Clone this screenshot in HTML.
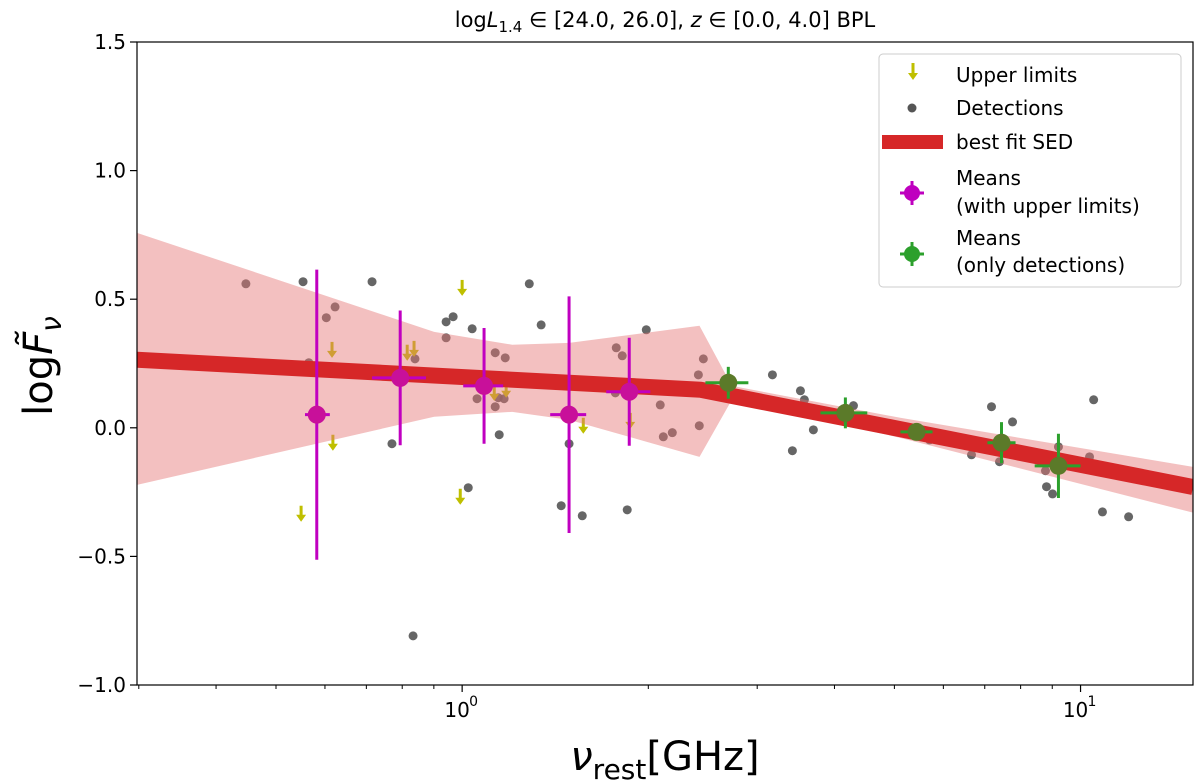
<!DOCTYPE html>
<html><head><meta charset="utf-8"><style>
html,body{margin:0;padding:0;background:#fff;}
svg{display:block;font-family:"DejaVu Sans","Liberation Sans",sans-serif;}
</style></head><body>
<svg id="chart" width="1200" height="781" viewBox="0 0 1200 781" xmlns="http://www.w3.org/2000/svg">
<g id="plot"></g>
</svg>
<script>
// detections
const detX = [0.447,0.553,0.623,0.603,0.715,0.770,0.839,0.942,0.967,0.942,1.038,1.023,1.131,1.174,1.057,1.131,1.144,1.169,1.148,1.284,1.342,1.446,1.564,1.489,1.849,1.775,1.815,1.985,2.091,2.115,2.187,1.769,0.565,0.833,2.455,2.41,2.418,3.175,3.524,3.576,3.698,3.42,4.293,7.178,7.762,6.663,7.395,10.5,9.21,10.34,8.776,8.81,9.01,10.85,11.96,5.70];
const detY = [0.56,0.568,0.47,0.428,0.568,-0.062,0.268,0.412,0.432,0.35,0.385,-0.233,0.292,0.272,0.113,0.082,0.117,0.113,-0.027,0.56,0.40,-0.303,-0.342,-0.062,-0.319,0.311,0.28,0.381,0.089,-0.035,-0.019,0.136,0.253,-0.809,0.268,0.206,0.008,0.206,0.144,0.109,-0.008,-0.089,0.086,0.082,0.023,-0.105,-0.132,0.109,-0.074,-0.113,-0.167,-0.229,-0.257,-0.327,-0.346,-0.047];
// upper limits
const ulX = [0.616,0.618,0.549,0.815,0.836,1.0,0.993,1.570,1.870,1.127,1.178];
const ulY = [0.334,-0.027,-0.303,0.323,0.338,0.575,-0.237,0.039,0.058,0.167,0.179];
// magenta means
const mX = [0.582,0.794,1.085,1.489,1.863];
const mXlo = [0.557,0.715,1.004,1.388,1.71];
const mXhi = [0.611,0.874,1.165,1.587,2.015];
const mY = [0.051,0.194,0.163,0.051,0.14];
const mErr = [0.564,0.262,0.225,0.46,0.21];
// green means
const gX = [2.694,4.166,5.43,7.45,9.21];
const gXlo = [2.474,3.797,5.114,7.07,8.43];
const gXhi = [2.903,4.52,5.763,7.85,10.0];
const gY = [0.175,0.058,-0.016,-0.058,-0.148];
const gErr = [0.062,0.06,0.015,0.08,0.125];
// band
const bandX = [0.298,0.901,1.205,1.49,2.42,2.73,5.11,15.2];
const bandUp = [0.758,0.373,0.323,0.330,0.397,0.163,0.039,-0.152];
const bandLo = [-0.222,0.043,0.062,0.031,-0.113,0.109,-0.039,-0.330];
// fit
const fitBreakX = 2.43, fitBreakY = 0.148, fitSlope1 = -0.128, fitSlope2 = -0.475;
const yTicks = [-1.0,-0.5,0.0,0.5,1.0,1.5];
const yTickLabels = ["\u22121.0","\u22120.5","0.0","0.5","1.0","1.5"];

const L=137,R=1193,T=42,B=685;
const xmin=0.298,xmax=15.2,ymin=-1,ymax=1.5;
function sx(v){return L+(Math.log10(v)-Math.log10(xmin))/(Math.log10(xmax)-Math.log10(xmin))*(R-L);}
function sy(v){return B-(v-ymin)/(ymax-ymin)*(B-T);}
const NS="http://www.w3.org/2000/svg";
const svg=document.getElementById('chart');
const plot=document.getElementById('plot');
function el(tag,attrs,parent){const e=document.createElementNS(NS,tag);for(const k in attrs)e.setAttribute(k,attrs[k]);(parent||plot).appendChild(e);return e;}

const clip=el('clipPath',{id:'cp'},svg);
el('rect',{x:L,y:T,width:R-L,height:B-T},clip);
const g=el('g',{'clip-path':'url(#cp)'});



for(let i=0;i<detX.length;i++){
  const c=el('circle',{cx:sx(detX[i]),cy:sy(detY[i]),r:4.5,fill:'#555',opacity:0.9},g);
  
  
}
function arrow(x,y,parent,color){
  const a=el('g',{},parent);
  el('line',{x1:x,y1:y,x2:x,y2:y+14,stroke:color,'stroke-width':3},a);
  el('path',{d:`M${x-5},${y+9} L${x+5},${y+9} L${x},${y+16} Z`,fill:color},a);
  return a;
}
for(let i=0;i<ulX.length;i++){
  const a=arrow(sx(ulX[i]),sy(ulY[i]),g,'#bfbf00');
  
  
}
let pts=[];
for(let i=0;i<bandX.length;i++)pts.push(sx(bandX[i])+','+sy(bandUp[i]));
for(let i=bandX.length-1;i>=0;i--)pts.push(sx(bandX[i])+','+sy(bandLo[i]));
const band=el('polygon',{points:pts.join(' '),fill:'#e57373',opacity:0.45},g);


function fitY(x){const s=x<fitBreakX?fitSlope1:fitSlope2;return fitBreakY+s*Math.log10(x/fitBreakX);}
const fx=[xmin,fitBreakX,xmax];
const fit=el('polyline',{points:fx.map(x=>sx(x)+','+sy(fitY(x))).join(' '),fill:'none',stroke:'#d62728','stroke-width':16,'stroke-linejoin':'round'},g);


function means(X,Xlo,Xhi,Y,E,color,fillc,name){
  for(let i=0;i<X.length;i++){
    const m=el('g',{},g);
    
    
    const cx=sx(X[i]),cy=sy(Y[i]);
    el('line',{x1:cx,y1:sy(Y[i]+E[i]),x2:cx,y2:sy(Y[i]-E[i]),stroke:color,'stroke-width':3},m);
    el('line',{x1:sx(Xlo[i]),y1:cy,x2:sx(Xhi[i]),y2:cy,stroke:color,'stroke-width':3},m);
    el('circle',{cx:cx,cy:cy,r:9,fill:fillc},m);
  }
}
means(mX,mXlo,mXhi,mY,mErr,'#c000c0','#c8109a','mean-with-upper-limits');
means(gX,gXlo,gXhi,gY,gErr,'#2ca02c','#5b7a29','mean-only-detections');

const fr=el('rect',{x:L,y:T,width:R-L,height:B-T,fill:'none',stroke:'#000','stroke-width':1.2});


for(let i=0;i<yTicks.length;i++){
  const y=sy(yTicks[i]);
  el('line',{x1:L-7,y1:y,x2:L,y2:y,stroke:'#000','stroke-width':1.2});
  const t=el('text',{x:L-11,y:y+7,'text-anchor':'end','font-size':20});
  t.textContent=yTickLabels[i];
  
  
}
const minors=[0.3,0.4,0.5,0.6,0.7,0.8,0.9,2,3,4,5,6,7,8,9];
for(const v of minors){const x=sx(v);el('line',{x1:x,y1:B,x2:x,y2:B+4,stroke:'#000','stroke-width':1});}
const majors=[1,10];const majLab=['0','1'];
for(let i=0;i<majors.length;i++){
  const x=sx(majors[i]);
  el('line',{x1:x,y1:B,x2:x,y2:B+7,stroke:'#000','stroke-width':1.2});
  const t=el('text',{x:x-5,y:B+32,'text-anchor':'middle','font-size':20});
  t.textContent='10';
  
  
  el('text',{x:x+7,y:B+21,'font-size':14}).textContent=majLab[i];
}
</script>
<svg style="position:absolute;left:0;top:0" width="1200" height="781" xmlns="http://www.w3.org/2000/svg" font-family="DejaVu Sans, Liberation Sans, sans-serif">
<text x="665" y="27" text-anchor="middle" font-size="21">log<tspan font-style="italic">L</tspan><tspan font-size="15" dy="5">1.4</tspan><tspan dy="-5"> ∈ [24.0, 26.0], </tspan><tspan font-style="italic">z</tspan> ∈ [0.0, 4.0]  BPL</text>
<text x="665" y="770" text-anchor="middle" font-size="40"><tspan font-style="italic">ν</tspan><tspan font-size="28" dy="9">rest</tspan><tspan dy="-9">[GHz]</tspan></text>
<text transform="translate(52,366) rotate(-90)" text-anchor="middle" font-size="40">log<tspan font-style="italic">F̃</tspan><tspan font-size="28" dy="9" font-style="italic">ν</tspan></text>
<g>
<rect x="879" y="54" width="302" height="233" rx="4" fill="#fff" fill-opacity="0.85" stroke="#ccc" stroke-width="1"/>
<g>
<line x1="913" y1="63" x2="913" y2="78" stroke="#bfbf00" stroke-width="3"/><path d="M908,73 L918,73 L913,80 Z" fill="#bfbf00"/>
<text x="956" y="82" font-size="20">Upper limits</text></g>
<g>
<circle cx="912" cy="108" r="4.5" fill="#555"/><text x="956" y="115" font-size="20">Detections</text></g>
<g>
<rect x="882" y="135" width="61" height="14" fill="#d62728"/><text x="956" y="149" font-size="20">best fit SED</text></g>
<g>
<line x1="912" y1="181" x2="912" y2="205" stroke="#bf00bf" stroke-width="3"/><line x1="900" y1="193" x2="924" y2="193" stroke="#bf00bf" stroke-width="3"/><circle cx="912" cy="193" r="8" fill="#bf00bf"/>
<text x="956" y="185" font-size="20">Means</text><text x="956" y="213" font-size="20">(with upper limits)</text></g>
<g>
<line x1="912" y1="242" x2="912" y2="266" stroke="#2ca02c" stroke-width="3"/><line x1="900" y1="254" x2="924" y2="254" stroke="#2ca02c" stroke-width="3"/><circle cx="912" cy="254" r="8" fill="#2ca02c"/>
<text x="956" y="245" font-size="20">Means</text><text x="956" y="272" font-size="20">(only detections)</text></g>
</g>
</svg>
</body></html>
